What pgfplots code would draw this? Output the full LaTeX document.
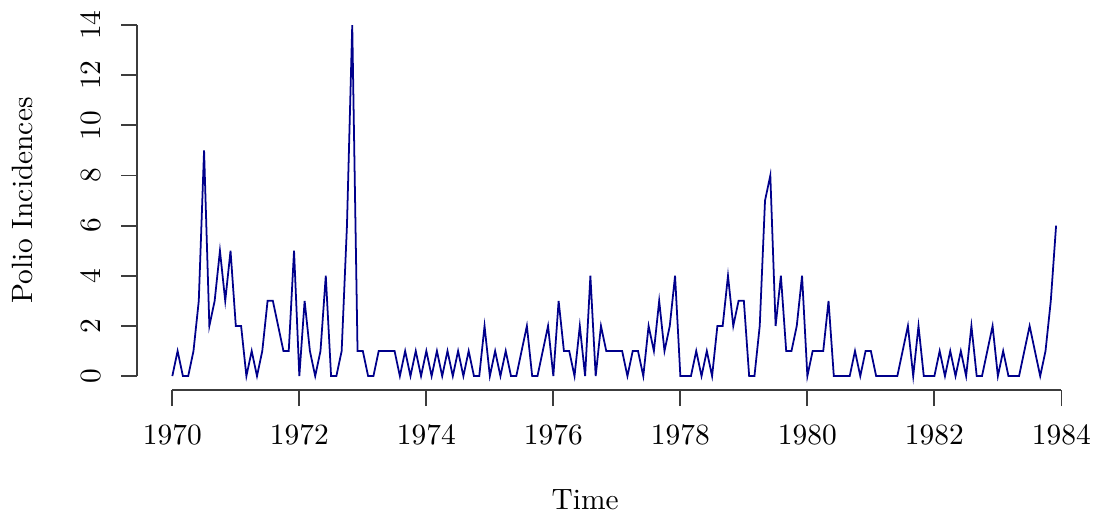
\documentclass[border=0pt]{standalone}
\usepackage{pgfplots}
\pgfplotsset{compat=1.18}
\usepackage{pgfplotstable}

% Monthly polio incidences in the USA, January 1970 to December 1983
% (one row per month)
\pgfplotstableread{
cases
0
1
0
0
1
3
9
2
3
5
3
5
2
2
0
1
0
1
3
3
2
1
1
5
0
3
1
0
1
4
0
0
1
6
14
1
1
0
0
1
1
1
1
0
1
0
1
0
1
0
1
0
1
0
1
0
1
0
0
2
0
1
0
1
0
0
1
2
0
0
1
2
0
3
1
1
0
2
0
4
0
2
1
1
1
1
0
1
1
0
2
1
3
1
2
4
0
0
0
1
0
1
0
2
2
4
2
3
3
0
0
2
7
8
2
4
1
1
2
4
0
1
1
1
3
0
0
0
0
1
0
1
1
0
0
0
0
0
1
2
0
2
0
0
0
1
0
1
0
1
0
2
0
0
1
2
0
1
0
0
0
1
2
1
0
1
3
6
}\polio

\definecolor{seriesblue}{RGB}{0,0,139}
\definecolor{axisgray}{RGB}{60,60,60}

\begin{document}
\begin{tikzpicture}
\begin{axis}[
  scale only axis,
  width=324.5pt, height=128.9pt,
  xmin=1969.443, xmax=1984.473,
  ymin=-0.56, ymax=14.56,
  axis x line*=bottom, axis y line*=left,
  axis line style={draw=none},
  clip=false,
  xtick={1970,1972,...,1984},
  ytick={0,2,...,14},
  x tick label style={/pgf/number format/1000 sep={}},
  tick align=outside,
  major tick length=5.4pt,
  tick style={axisgray, line width=0.6pt},
  xticklabel style={anchor=north, inner sep=0pt, yshift=-6.4pt},
  yticklabel style={rotate=90, anchor=south, inner sep=0pt, yshift=6.9pt},
]
\addplot[seriesblue, line width=0.6pt, mark=none]
  table[x expr=1970+\coordindex/12, y=cases] {\polio};
% R-style axis lines that run from the first tick to the last
\draw[axisgray, line width=0.6pt] (axis cs:1970,-0.56) -- (axis cs:1984,-0.56);
\draw[axisgray, line width=0.6pt] (axis cs:1969.443,0) -- (axis cs:1969.443,14);
\node[anchor=base] at ([yshift=-40.5pt]axis cs:1976.5,-0.56) {Time};
\node[rotate=90, anchor=base] at ([xshift=-35.4pt]axis cs:1969.443,7) {Polio Incidences};
\end{axis}
% page frame
\path (-46.56pt,-42.84pt) rectangle (327.08pt,132.64pt);
\end{tikzpicture}
\end{document}
